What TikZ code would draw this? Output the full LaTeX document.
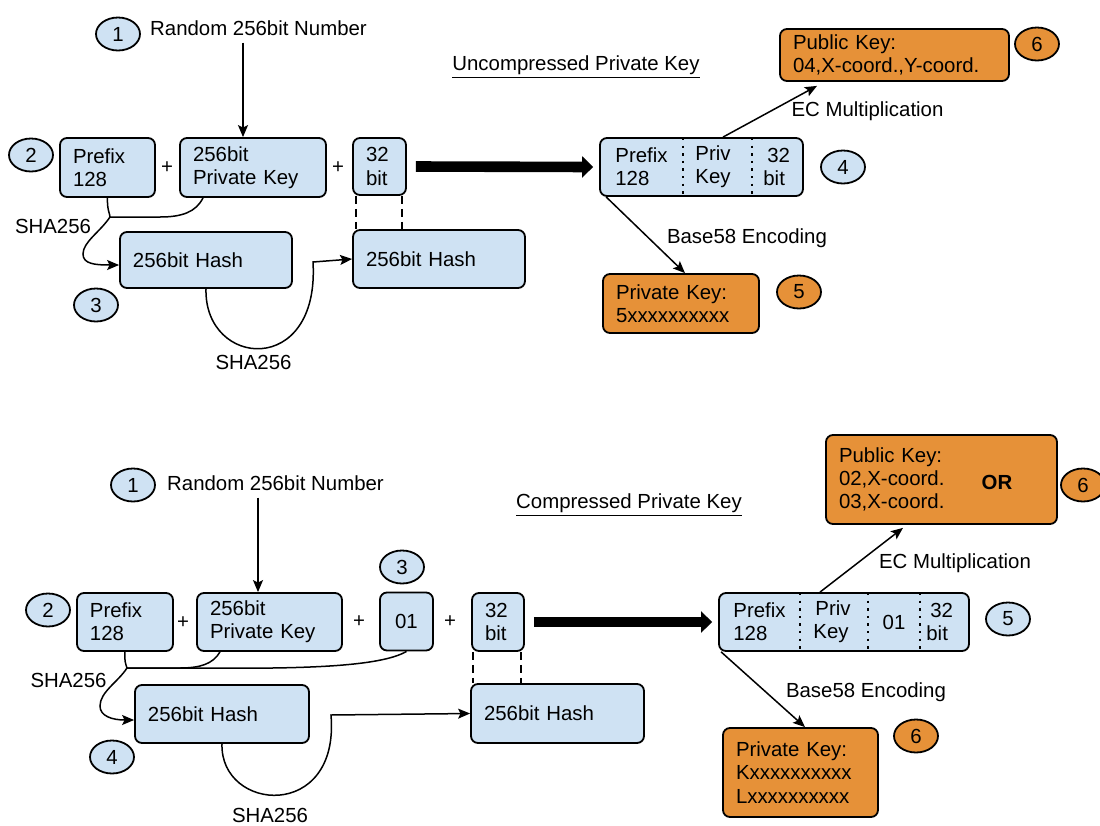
\documentclass[tikz,border=0pt]{standalone}
\usepackage{fontspec}
\setmainfont{Liberation Sans}
\usetikzlibrary{shapes.geometric,arrows.meta}

\definecolor{keyblue}{RGB}{207,226,243}
\definecolor{keyorange}{RGB}{230,145,56}

\tikzset{
  blk/.style={draw, line width=0.9pt, rounded corners=3.5pt, fill=keyblue, align=left, inner xsep=6.5pt, inner ysep=0pt},
  orng/.style={blk, fill=keyorange},
  num/.style={ellipse, draw, line width=0.9pt, fill=keyblue, minimum width=22pt, minimum height=16.5pt, inner sep=0pt},
  numo/.style={num, fill=keyorange},
  inbox/.style={inner sep=0pt, align=left, anchor=west},
  link/.style={line width=0.75pt},
  arr/.style={link, -{Stealth[length=6pt,width=5pt,inset=1.2pt]}},
  bigarr/.style={line width=5.3pt, -{Triangle[length=5.5pt,width=10.5pt]}},
  gap/.style={line width=0.75pt, dash pattern=on 4pt off 2.5pt},
  sep/.style={line width=0.9pt, dash pattern=on 1.2pt off 2.6pt},
}

\begin{document}
\begin{tikzpicture}[x=0.5pt, y=-0.5pt, font=\fontsize{10.2pt}{11.6pt}\selectfont]
\useasboundingbox (0,0) rectangle (1100,826);

%% uncompressed key
\node[num] (e1) at (118,34) {1};
\node (rnd1) at (258.5,28) {Random 256bit Number};
\node (unc) at (576,67) {\underline{Uncompressed Private Key}};

\node[num] (e2) at (31,155) {2};
\node[blk, text width=34.5pt, minimum height=29.5pt] (pre1) at (107.5,167.5) {Prefix\\128};
\node (plus1) at (167,168) {+};
\node[blk, text width=60pt, minimum height=29.5pt] (pk1) at (253,167.5) {256bit\\Private Key};
\node (plus2) at (338,168) {+};
\node[blk, text width=13.5pt, minimum height=28.5pt] (bit1) at (379.5,166.5) {32\\bit};

\node[blk, text width=73pt, minimum height=28pt] (h1) at (206,260) {256bit Hash};
\node[blk, text width=73pt, minimum height=29pt] (h2) at (439,259) {256bit Hash};
\node[num] (e3) at (96,305) {3};
\node (sha1a) at (53,226) {SHA256};
\node (sha1b) at (253.5,362) {SHA256};

% joined key with dotted dividers
\node[blk, text width=88.5pt, minimum height=29pt] (cmb1) at (701.5,167) {};
\draw[sep] (683,138) -- (683,196);
\draw[sep] (752,138) -- (752,196);
\node[inbox] (cmb1a) at (615,167) {Prefix\\128};
\node[inbox] (cmb1b) at (695,167) {Priv\\Key};
\node[inbox] (cmb1c) at (763,167) {\hspace*{2pt}32\\bit};
\node[num] (e4) at (843,167) {4};

\node[orng, text width=101.5pt, minimum height=26pt] (pub1) at (894.5,55) {Public Key:\\04,X-coord.,Y-coord.};
\node[numo] (e6) at (1037,44) {6};
\node (ec1) at (867.5,111) {EC Multiplication};
\node[orng, text width=65pt, minimum height=29.5pt] (prv1) at (681,303.5) {Private Key:\\5xxxxxxxxxx};
\node[numo] (e5) at (799,292) {5};
\node (b581) at (747,238) {Base58 Encoding};

\coordinate (j1) at (110,217);
\draw[arr] ([xshift=-5pt]pk1.north |- rnd1.south) -- ([xshift=-5pt]pk1.north);
\draw[link] ([xshift=-25pt]pk1.south) .. controls (196,212) and (182,217) .. (160,217) -- (j1);
\draw[arr] (pre1.south) .. controls (107,210) and (110,214) .. (j1)
  .. controls (100,232) and (83,242) .. (83,254) .. controls (83,264) and (95,265) .. ([yshift=-2.5pt]h1.west);
\draw[arr] (h1.south) .. controls (204,368) and (320,378) .. (313,262) -- (h2.west);
\draw[gap] ([xshift=-11.75pt]bit1.south) -- ([xshift=-11.75pt]bit1.south |- h2.north);
\draw[gap] ([xshift=11.25pt]bit1.south) -- ([xshift=11.25pt]bit1.south |- h2.north);
\draw[bigarr] ([xshift=4.5pt]bit1.east) -- ([xshift=-3pt]cmb1.west);
\draw[arr] ([xshift=10.75pt]cmb1.north) -- ([xshift=-38.75pt,yshift=-2pt]pub1.south);
\draw[arr] ([xshift=3.5pt]cmb1.south west) -- ([xshift=2pt]prv1.north);

%% compressed key
\node[num] (f1) at (133,485) {1};
\node (rnd2) at (275.5,483) {Random 256bit Number};
\node (cmp) at (629,505) {\underline{Compressed Private Key}};

\node[num] (f2) at (48,610) {2};
\node[blk, text width=35pt, minimum height=29pt] (pre2) at (125,622) {Prefix\\128};
\node (plus3) at (183,623) {+};
\node[blk, text width=59.5pt, minimum height=29pt] (pk2) at (269.5,622) {256bit\\Private Key};
\node (plus4) at (359,622) {+};
\node[blk, text width=13.5pt, minimum height=29pt, align=center] (b01) at (406.5,621.5) {01};
\node[num] (f3) at (402,567) {3};
\node (plus5) at (450,622) {+};
\node[blk, text width=13pt, minimum height=29pt] (bit2) at (498,622) {32\\bit};

\node[blk, text width=74pt, minimum height=29pt] (h3) at (222,714) {256bit Hash};
\node[blk, text width=73.5pt, minimum height=29.5pt] (h4) at (557.5,713.5) {256bit Hash};
\node[num] (f4) at (112,757) {4};
\node (sha2a) at (68.5,680) {SHA256};
\node (sha2b) at (270,815) {SHA256};

\node[blk, text width=112pt, minimum height=29pt] (cmb2) at (844,622) {};
\draw[sep] (800,593) -- (800,651);
\draw[sep] (868,593) -- (868,651);
\draw[sep] (920,593) -- (920,651);
\node[inbox] (cmb2a) at (733,622) {Prefix\\128};
\node[inbox] (cmb2b) at (813,622) {\hspace*{1pt}Priv\\Key};
\node (cmb2c) at (894,622) {01};
\node[inbox] (cmb2d) at (926,622) {\hspace*{2pt}32\\bit};
\node[num] (f5) at (1008,619) {5};

\node[orng, text width=102.5pt, minimum height=44.5pt] (pub2) at (941.5,479.5) {Public Key:\\02,X-coord.\\03,X-coord.};
\node (or) at (997,482) {\bfseries OR};
\node[numo] (f6) at (1083,485) {6};
\node (ec2) at (955,563) {EC Multiplication};
\node[orng, text width=64.5pt, minimum height=44.5pt] (prv2) at (800.5,772.5) {Private Key:\\Kxxxxxxxxxx\\Lxxxxxxxxxx};
\node[numo] (f7) at (916,736) {6};
\node (b582) at (866,692) {Base58 Encoding};

\coordinate (j2) at (127,668);
\draw[arr] ([xshift=-5.75pt]pk2.north |- rnd2.south) -- ([xshift=-5.75pt]pk2.north);
\draw[link] ([xshift=-24.75pt]pk2.south) .. controls (213,664) and (200,668) .. (180,668) -- (j2);
\draw[link] (b01.south) .. controls (380,667) and (300,669) .. (200,668) -- (j2);
\draw[arr] (pre2.south) .. controls (124,660) and (126,665) .. (j2)
  .. controls (118,682) and (100,692) .. (100,706) .. controls (100,716) and (112,720) .. ([yshift=-3pt]h3.west);
\draw[arr] (h3.south) .. controls (220,812) and (340,822) .. (331,715) -- (h4.west);
\draw[gap] ([xshift=-12.5pt]bit2.south) -- ([xshift=-12.5pt]bit2.south |- h4.north);
\draw[gap] ([xshift=11.5pt]bit2.south) -- ([xshift=11.5pt]bit2.south |- h4.north);
\draw[bigarr] ([xshift=4.5pt]bit2.east) -- ([xshift=-3pt]cmb2.west);
\draw[arr] ([xshift=-12pt]cmb2.north) -- ([xshift=-19.25pt,yshift=-1.5pt]pub2.south);
\draw[arr] ([xshift=1.5pt]cmb2.south west) -- ([xshift=2.25pt]prv2.north);
\end{tikzpicture}
\end{document}
